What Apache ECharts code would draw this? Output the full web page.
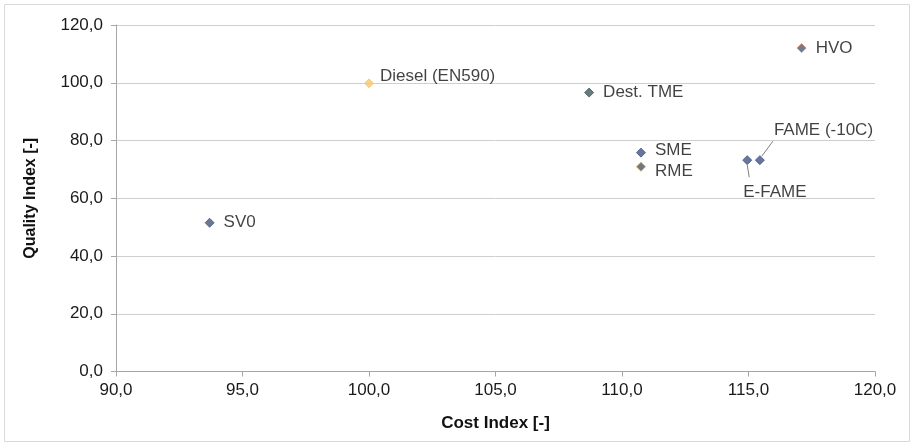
<!DOCTYPE html>
<html>
<head>
<meta charset="utf-8">
<script src="https://cdn.jsdelivr.net/npm/echarts@6/dist/echarts.min.js"></script>
<style>
html,body{margin:0;padding:0;background:#fff;}
#chart{width:914px;height:446px;}
</style>
</head>
<body>
<div id="chart"></div>
<script>
const names   = ['SV0', 'Diesel (EN590)', 'Dest. TME', 'SME', 'RME', 'E-FAME', 'FAME (-10C)', 'HVO'];
const cost    = [93.7, 100.0, 108.7, 110.75, 110.75, 114.95, 115.45, 117.1];
const quality = [51.5, 99.8, 96.6, 75.8, 70.9, 73.2, 73.2, 112.0];
const xTicks = [90, 95, 100, 105, 110, 115, 120];
const yTicks = [0, 20, 40, 60, 80, 100, 120];

const fills   = ['#44587a', '#f9c56a', '#3f5a5c', '#3f5583', '#4a5566', '#3f5583', '#3f5583', '#4a5a78'];
const borders = ['#44587a', '#f9c56a', '#3f5a5c', '#3f5583', '#c8a84a', '#3f5583', '#3f5583', '#e0875a'];
const labelMove = {
  'Diesel (EN590)': [-3, -7],
  'SME': [0, -2],
  'RME': [0, 5],
  'E-FAME': [-18, 32],
  'FAME (-10C)': [0, -30]
};
// leader line offsets in px relative to the marker: [x1, y1, x2, y2]
const leaders = {
  'E-FAME': [0, 5, 2, 17],
  'FAME (-10C)': [2, -4, 13, -19]
};

const fmt = v => v.toFixed(1).replace('.', ',');
const font = 'Liberation Sans, Arial, sans-serif';

const data = names.map((n, i) => ({
  name: n,
  value: [cost[i], quality[i]],
  itemStyle: {color: fills[i], borderColor: borders[i], borderWidth: 1}
}));

const chart = echarts.init(document.getElementById('chart'));
chart.setOption({
  animation: false,
  backgroundColor: '#fff',
  grid: {left: 116, right: 39, top: 25, bottom: 74.5, containLabel: false},
  xAxis: {
    type: 'value', min: xTicks[0], max: xTicks[xTicks.length - 1], interval: 5,
    name: 'Cost Index [-]', nameLocation: 'middle', nameGap: 43,
    nameTextStyle: {fontFamily: font, fontSize: 17, fontWeight: 'bold', color: '#111'},
    axisLine: {show: true, lineStyle: {color: '#a6a6a6'}},
    axisTick: {show: true, length: 5, lineStyle: {color: '#a6a6a6'}},
    axisLabel: {formatter: fmt, fontFamily: font, fontSize: 17, color: '#1a1a1a', margin: 10},
    splitLine: {show: false}
  },
  yAxis: {
    type: 'value', min: yTicks[0], max: yTicks[yTicks.length - 1], interval: 20,
    name: 'Quality Index [-]', nameLocation: 'middle', nameGap: 77,
    nameTextStyle: {fontFamily: font, fontSize: 16, fontWeight: 'bold', color: '#111'},
    axisLine: {show: true, lineStyle: {color: '#a6a6a6'}},
    axisTick: {show: true, length: 5, lineStyle: {color: '#a6a6a6'}},
    axisLabel: {formatter: fmt, fontFamily: font, fontSize: 17, color: '#1a1a1a', margin: 13},
    splitLine: {show: true, lineStyle: {color: '#cfcfcf'}}
  },
  series: [{
    type: 'scatter',
    symbol: 'diamond',
    symbolSize: 9,
    data: data,
    label: {
      show: true, position: 'right', distance: 9,
      formatter: p => p.name,
      fontFamily: font, fontSize: 17, color: '#111'
    },
    labelLayout: p => {
      const m = labelMove[names[p.dataIndex]];
      return m ? {dx: m[0], dy: m[1]} : {};
    }
  }]
});

const graphics = [{
  type: 'rect', shape: {x: 4.5, y: 4.5, width: 905, height: 437},
  style: {fill: 'none', stroke: '#d9d9d9', lineWidth: 1}, silent: true, z: -10
}];
names.forEach((n, i) => {
  const l = leaders[n];
  if (!l) return;
  const p = chart.convertToPixel({seriesIndex: 0}, [cost[i], quality[i]]);
  graphics.push({
    type: 'line', silent: true, z: 10,
    shape: {x1: p[0] + l[0], y1: p[1] + l[1], x2: p[0] + l[2], y2: p[1] + l[3]},
    style: {stroke: '#7f7f7f', lineWidth: 1}
  });
});
chart.setOption({graphic: graphics});
</script>
</body>
</html>
